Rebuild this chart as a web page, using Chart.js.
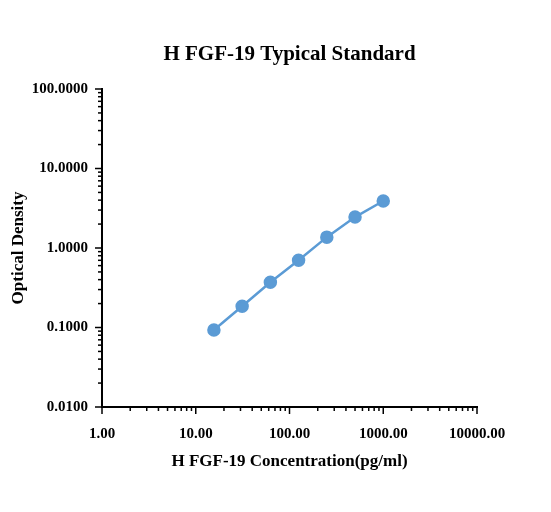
<!DOCTYPE html>
<html><head><meta charset="utf-8">
<script src="https://cdn.jsdelivr.net/npm/chart.js@4"></script>
<style>body{margin:0;background:#fff}#w{width:551px;height:512px}</style>
</head><body><div id="w"><canvas id="c"></canvas></div>
<script>
const concentrations=[15.625,31.25,62.5,125,250,500,1000];
const densities=[0.093,0.185,0.37,0.70,1.37,2.45,3.9];
const xTickLabels={1:'1.00',10:'10.00',100:'100.00',1000:'1000.00',10000:'10000.00'};
const yTickLabels={0.01:'0.0100',0.1:'0.1000',1:'1.0000',10:'10.0000',100:'100.0000'};
const chartTitle='H FGF-19 Typical Standard';
const F='"Liberation Serif","Times New Roman",serif';
const isMajor=v=>Math.abs(Math.log10(v)-Math.round(Math.log10(v)))<1e-6;
const axisPlugin={id:'ax',afterDraw(ch){const c=ch.ctx,a=ch.chartArea,x=ch.scales.x,y=ch.scales.y;
c.save();c.strokeStyle='#000';c.lineWidth=2;c.beginPath();c.moveTo(a.left,a.top-1);c.lineTo(a.left,a.bottom);c.lineTo(a.right+1,a.bottom);c.stroke();
c.lineWidth=1.5;
for(let d=1;d<=10000;d*=10){for(let k=1;k<10;k++){const v=d*k;if(v>10000)break;const p=x.getPixelForValue(v);const L=isMajor(v)?7:4;c.beginPath();c.moveTo(p,a.bottom);c.lineTo(p,a.bottom+L);c.stroke();}}
for(let d=0.01;d<=100.0001;d*=10){for(let k=1;k<10;k++){const v=d*k;if(v>100.0001)break;const p=y.getPixelForValue(v);const L=isMajor(v)?7:4;c.beginPath();c.moveTo(a.left,p);c.lineTo(a.left-L,p);c.stroke();}}
c.fillStyle='#000';c.font='bold 21px '+F;c.textAlign='center';c.textBaseline='middle';
c.fillText(chartTitle,(a.left+a.right)/2,55);
c.restore();}};
new Chart(document.getElementById('c'),{type:'line',
data:{datasets:[{data:concentrations.map((v,i)=>({x:v,y:densities[i]})),borderColor:'#5b9bd5',backgroundColor:'#5b9bd5',pointRadius:5.5,pointHoverRadius:5.5,borderWidth:2.5,tension:0}]},
options:{responsive:true,maintainAspectRatio:false,animation:false,
layout:{padding:{left:4,right:74,top:89,bottom:36}},
plugins:{legend:{display:false},tooltip:{enabled:false},title:{display:false}},
scales:{
x:{type:'logarithmic',min:1,max:10000,border:{display:false},grid:{display:false},
ticks:{color:'#000',font:{family:F,size:15,weight:'bold'},maxRotation:0,autoSkip:false,padding:10,callback:v=>xTickLabels[v]||''},
title:{display:true,text:'H FGF-19 Concentration(pg/ml)',color:'#000',font:{family:F,size:17,weight:'bold'},padding:{top:8}},
afterFit:s=>{s.height=69;}},
y:{type:'logarithmic',min:0.01,max:100,border:{display:false},grid:{display:false},
ticks:{color:'#000',font:{family:F,size:15,weight:'bold'},autoSkip:false,padding:6,callback:v=>{for(const k in yTickLabels){if(Math.abs(v-k)/k<1e-6)return yTickLabels[k];}return '';}},
title:{display:true,text:'Optical Density',color:'#000',font:{family:F,size:17,weight:'bold'},padding:{bottom:2}},
afterFit:s=>{s.width=98;}}}},
plugins:[axisPlugin]});
</script></body></html>
